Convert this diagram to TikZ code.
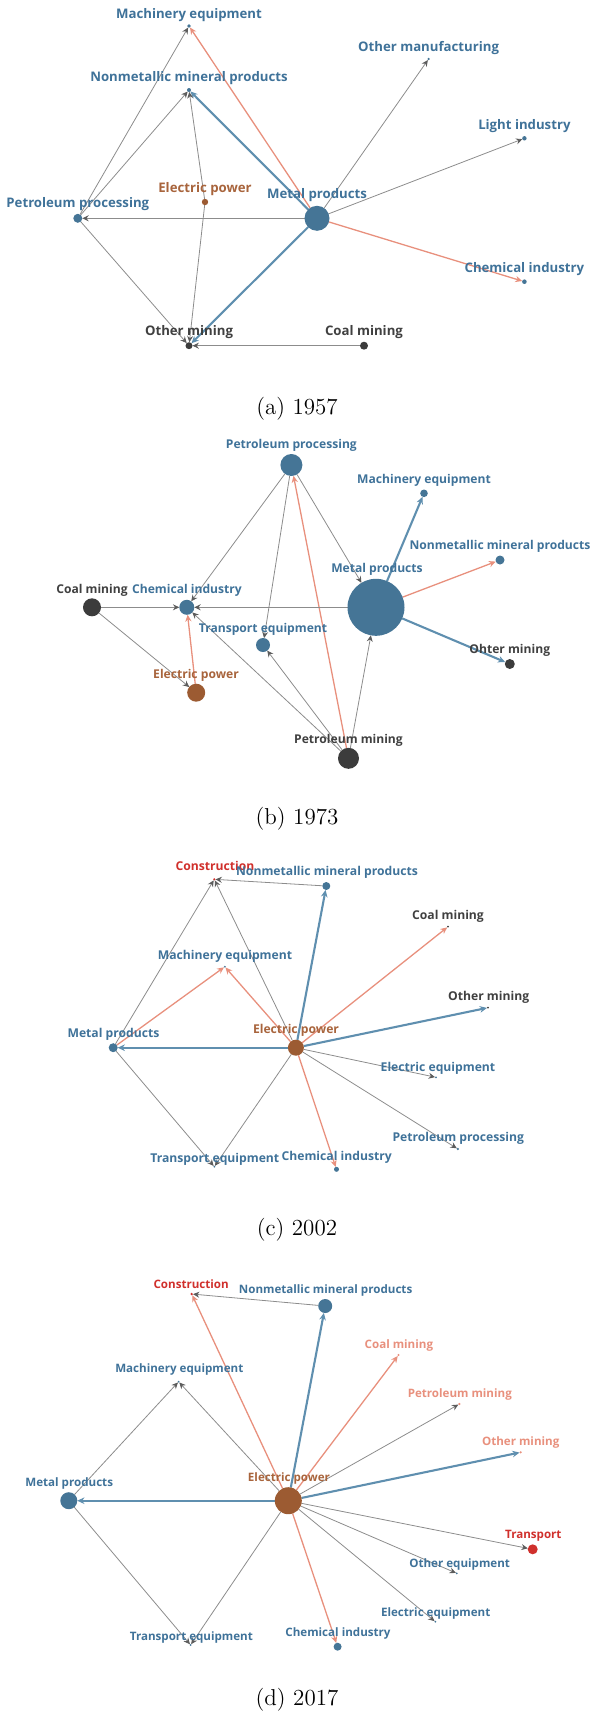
\documentclass[tikz,border=0pt]{standalone}
\usepackage{fontspec}
\newfontfamily\labfont{Open Sans}
\usetikzlibrary{arrows.meta}
\definecolor{nblue}{HTML}{457596}
\definecolor{lblue}{HTML}{3F7299}
\definecolor{ebrown}{HTML}{9C5B32}
\definecolor{lbrown}{HTML}{A8643C}
\definecolor{dgray}{HTML}{3C3C3C}
\definecolor{ldgray}{HTML}{404040}
\definecolor{salmon}{HTML}{E8907D}
\definecolor{egray}{HTML}{8C8C8C}
\definecolor{tgray}{HTML}{5C5C5C}
\definecolor{edgeblue}{HTML}{5F8FAF}
\definecolor{cred}{HTML}{D0302C}
\pgfdeclarelayer{bg}
\pgfsetlayers{bg,main}
\def\fs{6.6}
\tikzset{
 dot/.style={circle, inner sep=0pt, outer sep=0pt, draw=none},
 lab/.style={inner sep=0pt, font=\labfont\bfseries\fontsize{\fs}{\fs}\selectfont},
 gedge/.style={draw=egray, line width=0.4pt, -{Stealth[length=3.2pt,width=3pt,inset=1.1pt,color=tgray]}},
 gedgew/.style={gedge, line width=0.65pt},
 sedge/.style={draw=salmon, line width=0.65pt, -{Stealth[length=3.4pt,width=3.1pt,inset=1.1pt,color=salmon]}},
 bedge/.style={draw=edgeblue, line width=1.05pt, -{Stealth[length=3.6pt,width=3.3pt,inset=1.2pt,color=edgeblue]}},
 capt/.style={inner sep=0pt, font=\fontsize{11.5}{13}\selectfont}
}
\newcommand{\nd}[5]{\node[dot, minimum size=#4pt, fill=#5] (#1) at (#2,#3) {};}
\newcommand{\lb}[5]{\node[lab, text=#5] (#1) at (#2,#3) {#4};}
\begin{document}
\begin{tikzpicture}[x=0.5pt,y=-0.5pt]
\useasboundingbox (0,0) rectangle (589,1713);
% ---------------- (a) 1957
\def\fs{6.6}
\nd{a-mach}{189}{26}{1.8}{nblue}
\nd{a-oman}{428.6}{59}{1.3}{nblue}
\nd{a-nonm}{189}{90}{2}{nblue}
\nd{a-light}{524.4}{138.3}{2.2}{nblue}
\nd{a-elec}{205}{202}{3.2}{ebrown}
\nd{a-petp}{77.8}{218.3}{4.5}{nblue}
\nd{a-metal}{317}{218.3}{12.5}{nblue}
\nd{a-chem}{524.4}{281.7}{2.3}{nblue}
\nd{a-omin}{189}{345.7}{3.5}{dgray}
\nd{a-coal}{364}{345.7}{4}{dgray}
\lb{a-mach-l}{189}{15}{Machinery equipment}{lblue}
\lb{a-oman-l}{428.6}{48}{Other manufacturing}{lblue}
\lb{a-nonm-l}{189}{78.5}{Nonmetallic mineral products}{lblue}
\lb{a-light-l}{524.4}{126}{Light industry}{lblue}
\lb{a-elec-l}{205}{189}{Electric power}{lbrown}
\lb{a-petp-l}{77.8}{204}{Petroleum processing}{lblue}
\lb{a-metal-l}{317}{195}{Metal products}{lblue}
\lb{a-chem-l}{524.4}{269}{Chemical industry}{lblue}
\lb{a-omin-l}{189}{332.5}{Other mining}{ldgray}
\lb{a-coal-l}{364}{332}{Coal mining}{ldgray}
\node[capt] (a-cap) at (297,409) {(a) 1957};
\begin{pgfonlayer}{bg}
\draw[sedge] (a-metal) -- (a-mach);
\draw[sedge] (a-metal) -- (a-chem);
\draw[bedge] (a-metal) -- (a-nonm);
\draw[bedge] (a-metal) -- (a-omin);
\draw[gedge] (a-metal) -- (a-oman);
\draw[gedge] (a-metal) -- (a-light);
\draw[gedgew] (a-metal) -- (a-petp);
\draw[gedge] (a-petp) -- (a-mach);
\draw[gedge] (a-petp) -- (a-nonm);
\draw[gedge] (a-petp) -- (a-omin);
\draw[gedge] (a-elec) -- (a-nonm);
\draw[gedge] (a-elec) -- (a-omin);
\draw[gedge] (a-coal) -- (a-omin);
\end{pgfonlayer}
% ---------------- (b) 1973
\def\fs{6.05}
\nd{b-petp}{291.4}{465}{11}{nblue}
\nd{b-mach}{424}{493.3}{3.8}{nblue}
\nd{b-nonm}{500}{560}{4.5}{nblue}
\nd{b-metal}{376}{607.3}{28.5}{nblue}
\nd{b-coal}{92}{607.3}{9}{dgray}
\nd{b-chem}{186.8}{607.3}{7.5}{nblue}
\nd{b-trans}{263}{645}{7}{nblue}
\nd{b-omin}{509.8}{664}{5}{dgray}
\nd{b-elec}{196.2}{692.7}{9}{ebrown}
\nd{b-petm}{348.5}{758.3}{10.5}{dgray}
\lb{b-petp-l}{291.4}{445}{Petroleum processing}{lblue}
\lb{b-mach-l}{424}{480.3}{Machinery equipment}{lblue}
\lb{b-nonm-l}{500}{546}{Nonmetallic mineral products}{lblue}
\lb{b-metal-l}{377}{569.5}{Metal products}{lblue}
\lb{b-coal-l}{92}{590}{Coal mining}{ldgray}
\lb{b-chem-l}{187}{590.7}{Chemical industry}{lblue}
\lb{b-trans-l}{263}{629.5}{Transport equipment}{lblue}
\lb{b-omin-l}{509.8}{650}{Ohter mining}{ldgray}
\lb{b-elec-l}{196}{675}{Electric power}{lbrown}
\lb{b-petm-l}{348.5}{740}{Petroleum mining}{ldgray}
\node[capt] (b-cap) at (297,819) {(b) 1973};
\begin{pgfonlayer}{bg}
\draw[gedge] (b-petp) -- (b-chem);
\draw[gedge] (b-petp) -- (b-trans);
\draw[gedge] (b-petp) -- (b-metal);
\draw[gedge] (b-petm) -- (b-chem);
\draw[gedge] (b-petm) -- (b-trans);
\draw[gedge] (b-petm) -- (b-metal);
\draw[gedge] (b-coal) -- (b-chem);
\draw[gedge] (b-coal) -- (b-elec);
\draw[sedge] (b-petm) -- (b-petp);
\draw[sedge] (b-metal) -- (b-nonm);
\draw[sedge] (b-elec) -- (b-chem);
\draw[bedge] (b-metal) -- (b-mach);
\draw[bedge] (b-metal) -- (b-omin);
\draw[gedgew] (b-metal) -- (b-chem);
\end{pgfonlayer}
% ---------------- (c) 2002
\def\fs{6.08}
\nd{c-cons}{214.3}{879.3}{1.2}{cred}
\nd{c-nonm}{326.3}{886}{4}{nblue}
\nd{c-coal}{448}{926.7}{1}{dgray}
\nd{c-mach}{224.8}{966.7}{1}{nblue}
\nd{c-omin}{488}{1007.7}{1}{dgray}
\nd{c-metal}{113.2}{1047.7}{4.5}{nblue}
\nd{c-elec}{295.9}{1047.7}{8}{ebrown}
\nd{c-eeq}{436}{1077.3}{1}{nblue}
\nd{c-petp}{457.9}{1149}{1.3}{nblue}
\nd{c-chem}{336.5}{1169.3}{2.5}{nblue}
\nd{c-treq}{214.3}{1166.7}{1}{nblue}
\lb{c-cons-l}{215}{866}{Construction}{cred}
\lb{c-nonm-l}{327}{872.3}{Nonmetallic mineral products}{lblue}
\lb{c-coal-l}{448}{916}{Coal mining}{ldgray}
\lb{c-mach-l}{225}{956.7}{Machinery equipment}{lblue}
\lb{c-omin-l}{488.7}{997}{Other mining}{ldgray}
\lb{c-metal-l}{113.5}{1034}{Metal products}{lblue}
\lb{c-elec-l}{296}{1030.7}{Electric power}{lbrown}
\lb{c-eeq-l}{438}{1068.7}{Electric equipment}{lblue}
\lb{c-petp-l}{458.3}{1138.3}{Petroleum processing}{lblue}
\lb{c-chem-l}{336.7}{1157.3}{Chemical industry}{lblue}
\lb{c-treq-l}{214.8}{1159.3}{Transport equipment}{lblue}
\node[capt] (c-cap) at (297,1230) {(c) 2002};
\begin{pgfonlayer}{bg}
\draw[bedge] (c-elec) -- (c-nonm);
\draw[bedge] (c-elec) -- (c-omin);
\draw[bedge] (c-elec) -- (c-metal);
\draw[sedge] (c-elec) -- (c-coal);
\draw[sedge] (c-elec) -- (c-chem);
\draw[sedge] (c-elec) -- (c-mach);
\draw[sedge] (c-metal) -- (c-mach);
\draw[gedge] (c-elec) -- (c-eeq);
\draw[gedge] (c-elec) -- (c-petp);
\draw[gedge] (c-elec) -- (c-treq);
\draw[gedge] (c-elec) -- (c-cons);
\draw[gedge] (c-metal) -- (c-cons);
\draw[gedge] (c-metal) -- (c-treq);
\draw[gedge] (c-nonm) -- (c-cons);
\end{pgfonlayer}
% ---------------- (d) 2017
\def\fs{5.8}
\nd{d-cons}{191.7}{1294}{1.3}{cred}
\nd{d-nonm}{325.2}{1306}{7}{nblue}
\nd{d-coal}{398.5}{1355}{1.2}{salmon}
\nd{d-mach}{178.6}{1381.7}{1}{nblue}
\nd{d-petm}{459.4}{1404}{1.2}{salmon}
\nd{d-omin}{520.7}{1452.3}{1.2}{salmon}
\nd{d-metal}{68.8}{1500.7}{8.5}{nblue}
\nd{d-elec}{288.3}{1500.7}{13.5}{ebrown}
\nd{d-trans}{532.7}{1549.3}{5}{cred}
\nd{d-oeq}{456.8}{1573.3}{1}{nblue}
\nd{d-eeq}{435.3}{1621.7}{1}{nblue}
\nd{d-chem}{337.6}{1646.7}{4}{nblue}
\nd{d-treq}{190.6}{1645}{1}{nblue}
\lb{d-cons-l}{191.2}{1284}{Construction}{cred}
\lb{d-nonm-l}{325.6}{1290}{Nonmetallic mineral products}{lblue}
\lb{d-coal-l}{398.9}{1345}{Coal mining}{salmon}
\lb{d-mach-l}{179.3}{1369.3}{Machinery equipment}{lblue}
\lb{d-petm-l}{459.8}{1394}{Petroleum mining}{salmon}
\lb{d-omin-l}{520.7}{1442.7}{Other mining}{salmon}
\lb{d-metal-l}{69.2}{1483.3}{Metal products}{lblue}
\lb{d-elec-l}{289}{1478.3}{Electric power}{lbrown}
\lb{d-trans-l}{533.3}{1535.7}{Transport}{cred}
\lb{d-oeq-l}{459.6}{1564.7}{Other equipment}{lblue}
\lb{d-eeq-l}{435.7}{1613.3}{Electric equipment}{lblue}
\lb{d-chem-l}{338}{1633.3}{Chemical industry}{lblue}
\lb{d-treq-l}{191.4}{1637.7}{Transport equipment}{lblue}
\node[capt] (d-cap) at (297,1700) {(d) 2017};
\begin{pgfonlayer}{bg}
\draw[sedge] (d-elec) -- (d-cons);
\draw[sedge] (d-elec) -- (d-coal);
\draw[sedge] (d-elec) -- (d-chem);
\draw[bedge] (d-elec) -- (d-nonm);
\draw[bedge] (d-elec) -- (d-omin);
\draw[bedge] (d-elec) -- (d-metal);
\draw[gedge] (d-nonm) -- (d-cons);
\draw[gedge] (d-elec) -- (d-petm);
\draw[gedge] (d-elec) -- (d-trans);
\draw[gedge] (d-elec) -- (d-oeq);
\draw[gedge] (d-elec) -- (d-eeq);
\draw[gedge] (d-elec) -- (d-treq);
\draw[gedge] (d-elec) -- (d-mach);
\draw[gedge] (d-metal) -- (d-mach);
\draw[gedge] (d-metal) -- (d-treq);
\end{pgfonlayer}
\end{tikzpicture}
\end{document}
